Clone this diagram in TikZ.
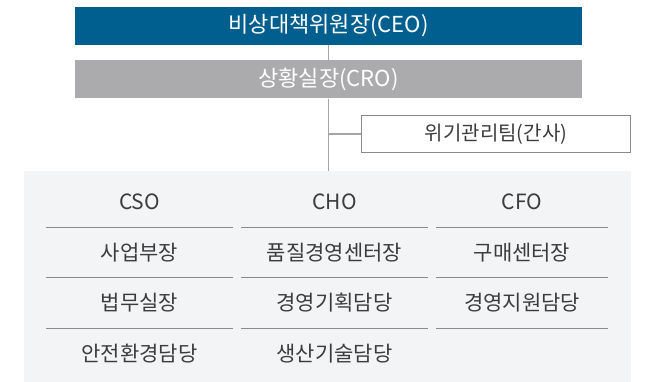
\documentclass[tikz,border=0pt]{standalone}
\usepackage{fontspec}
\setmainfont{Noto Sans CJK KR}
\usepackage{tikz}
\usetikzlibrary{positioning, calc}
\definecolor{primary}{HTML}{005F8F}
\definecolor{secondary}{HTML}{3C3C3C}
\definecolor{midgray}{HTML}{ABABAD}
\definecolor{panelgray}{HTML}{F3F4F6}
\definecolor{rulegray}{HTML}{8A8A8A}
\definecolor{linkgray}{HTML}{A5A5A5}

\begin{document}
\begin{tikzpicture}[x=1pt, y=-1pt,
  bar/.style={rectangle, minimum width=507pt, minimum height=38pt, inner sep=0pt,
              font=\fontsize{22}{22}\selectfont, text=white},
  teambox/.style={rectangle, draw=rulegray, line width=1pt, fill=white,
                  minimum width=269pt, minimum height=37pt, inner sep=0pt,
                  font=\fontsize{20}{20}\selectfont, text=secondary},
  panel/.style={rectangle, fill=panelgray, minimum width=607pt, minimum height=211pt, inner sep=0pt},
  cell/.style={rectangle, minimum width=187pt, minimum height=50pt, inner sep=0pt,
               font=\fontsize{21}{21}\selectfont, text=secondary},
  link/.style={color=linkgray, line width=1.5pt},
  sep/.style={color=rulegray, line width=1pt},
]
\useasboundingbox (0,0) rectangle (671,382);
% top of the chart
\node[bar, fill=primary] (ceo) at (328.5,26) {비상대책위원장(CEO)};
\node[bar, fill=midgray, below=15pt of ceo] (cro) {상황실장(CRO)};
\node[teambox] (team) at (496,134) {위기관리팀(간사)};
\node[panel] (panel) at (327.5,276.5) {};
% columns
\node[cell] (cso) at (139.5,202) {CSO};
\node[cell, below=0pt of cso] (sbu) {사업부장};
\node[cell, below=0pt of sbu] (slaw) {법무실장};
\node[cell, below=0pt of slaw] (senv) {안전환경담당};
\node[cell] (cho) at (334.5,202) {CHO};
\node[cell, below=0pt of cho] (hqm) {품질경영센터장};
\node[cell, below=0pt of hqm] (hplan) {경영기획담당};
\node[cell, below=0pt of hplan] (htech) {생산기술담당};
\node[cell, minimum width=172pt] (cfo) at (522,202) {CFO};
\node[cell, minimum width=172pt, below=0pt of cfo] (fbuy) {구매센터장};
\node[cell, minimum width=172pt, below=0pt of fbuy] (fsup) {경영지원담당};
% links
\draw[link] (ceo) -- (cro);
\draw[link] (cro.south) -- (cro.south |- panel.north);
\draw[link] (team.west) -- (team.west -| cro.south);
\foreach \n in {cso,sbu,slaw,cho,hqm,hplan,cfo,fbuy,fsup}
  \draw[sep] (\n.south west) -- (\n.south east);
\end{tikzpicture}
\end{document}
